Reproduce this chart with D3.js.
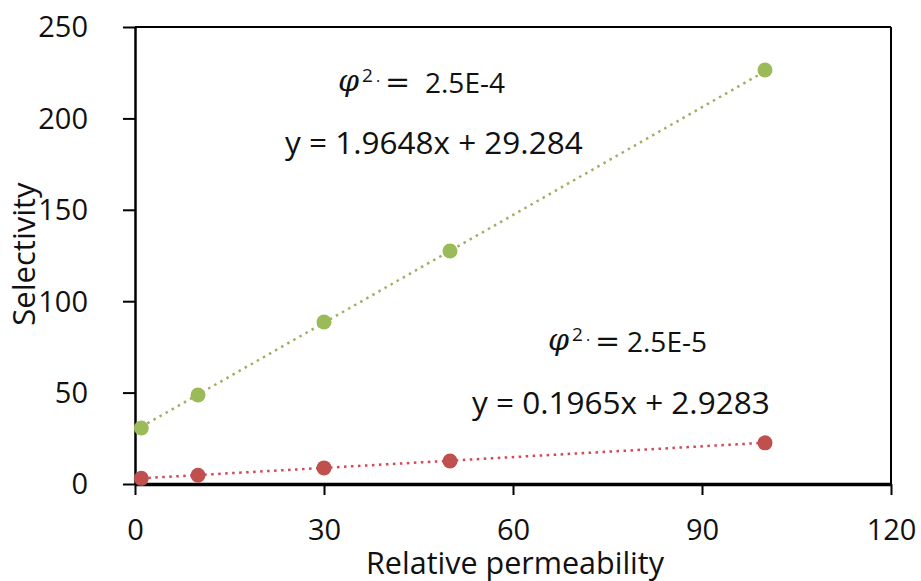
<!DOCTYPE html>
<html>
<head>
<meta charset="utf-8">
<script src="https://cdn.jsdelivr.net/npm/d3@7"></script>
<style>
  html, body { margin: 0; padding: 0; background: #fff; }
  svg text { font-family: "Open Sans", "DejaVu Sans", sans-serif; fill: #111; }
</style>
</head>
<body>
<svg id="chart" width="921" height="581"></svg>
<script>
// Relative permeability (x) for both series
const permeability = [1, 10, 30, 50, 100];
// Selectivity for phi^2 = 2.5E-4
const selectivityHigh = [30.6, 48.7, 88.6, 127.5, 226.5];
// Selectivity for phi^2 = 2.5E-5
const selectivityLow = [3.1, 4.8, 8.8, 12.6, 22.5];
// Linear fits shown as dotted trendlines
const fitHigh = { slope: 1.9648, intercept: 29.284 };
const fitLow = { slope: 0.1965, intercept: 2.9283 };
const xTicks = [0, 30, 60, 90, 120];
const yTicks = [0, 50, 100, 150, 200, 250];
const seriesLabels = [
  { phi: "2.5E-4", eq: "y = 1.9648x + 29.284" },
  { phi: "2.5E-5", eq: "y = 0.1965x + 2.9283" }
];

const svg = d3.select("#chart");
const plotLeft = 135, plotRight = 891, plotTop = 27, plotBottom = 484;

const x = d3.scaleLinear().domain([0, 120]).range([plotLeft, plotRight]);
const y = d3.scaleLinear().domain([0, 250]).range([plotBottom, plotTop]);

// Frame: top and right borders
svg.append("line").attr("x1", plotLeft).attr("x2", plotRight).attr("y1", plotTop).attr("y2", plotTop)
  .attr("stroke", "#000").attr("stroke-width", 2);
svg.append("line").attr("x1", plotRight).attr("x2", plotRight).attr("y1", plotTop).attr("y2", plotBottom)
  .attr("stroke", "#000").attr("stroke-width", 2);

// Axes
const yAxis = svg.append("g").attr("transform", `translate(${plotLeft},0)`)
  .call(d3.axisLeft(y).tickValues(yTicks).tickSize(12).tickPadding(35).tickSizeOuter(0));
const xAxis = svg.append("g").attr("transform", `translate(0,${plotBottom})`)
  .call(d3.axisBottom(x).tickValues(xTicks).tickSize(11).tickSizeOuter(0));

yAxis.select(".domain").attr("stroke", "#000").attr("stroke-width", 2.5);
xAxis.select(".domain").attr("stroke", "#000").attr("stroke-width", 3.5);
svg.selectAll(".tick line").attr("stroke", "#000").attr("stroke-width", 2);
svg.selectAll(".tick text").style("font-size", "29px").attr("fill", "#111");
yAxis.selectAll(".tick text").attr("dy", "0.34em");
xAxis.selectAll(".tick text").attr("y", 56).attr("dy", 0);

// Axis titles
svg.append("text").attr("transform", "translate(35,254) rotate(-90)")
  .attr("text-anchor", "middle").style("font-size", "31px").text("Selectivity");
svg.append("text").attr("x", 515).attr("y", 574)
  .attr("text-anchor", "middle").style("font-size", "30.5px").text("Relative permeability");

// Trendlines
const trend = [
  { fit: fitHigh, color: "#a3ad62" },
  { fit: fitLow, color: "#d4465a" }
];
const xs = [permeability[0], permeability[permeability.length - 1]];
trend.forEach(t => {
  svg.append("line")
    .attr("x1", x(xs[0])).attr("y1", y(t.fit.slope * xs[0] + t.fit.intercept))
    .attr("x2", x(xs[1])).attr("y2", y(t.fit.slope * xs[1] + t.fit.intercept))
    .attr("stroke", t.color).attr("stroke-width", 2.5)
    .attr("stroke-dasharray", "2.5,4.5");
});

// Data markers
const series = [
  { values: selectivityHigh, color: "#9bbb59" },
  { values: selectivityLow, color: "#c0504d" }
];
series.forEach(s => {
  svg.append("g").selectAll("circle")
    .data(permeability.map((p, i) => [p, s.values[i]]))
    .join("circle")
    .attr("cx", d => x(d[0])).attr("cy", d => y(d[1]))
    .attr("r", 7.5).attr("fill", s.color);
});

// Equation labels: phi^2 = value
function phiLabel(px, py, valueX, value) {
  const g = svg.append("g");
  g.append("text").attr("x", px).attr("y", py - 2)
    .style("font-family", "DejaVu Serif, serif").style("font-style", "italic")
    .style("font-size", "30px").text("φ");
  g.append("text").attr("x", px + 24).attr("y", py - 11)
    .style("font-size", "19px").text("2");
  g.append("text").attr("x", px + 38).attr("y", py - 6)
    .style("font-size", "16px").text("·");
  g.append("text").attr("x", px + 47).attr("y", py - 1)
    .style("font-family", "DejaVu Serif, serif").style("font-size", "30px")
    .attr("textLength", 27).text("=");
  g.append("text").attr("x", valueX).attr("y", py)
    .style("font-size", "28px").text(value);
}
phiLabel(338, 93, 425, seriesLabels[0].phi);
svg.append("text").attr("x", 285).attr("y", 154).style("font-size", "31.5px").text(seriesLabels[0].eq);
phiLabel(548, 352, 627, seriesLabels[1].phi);
svg.append("text").attr("x", 472).attr("y", 414).style("font-size", "31.5px").text(seriesLabels[1].eq);
</script>
</body>
</html>
